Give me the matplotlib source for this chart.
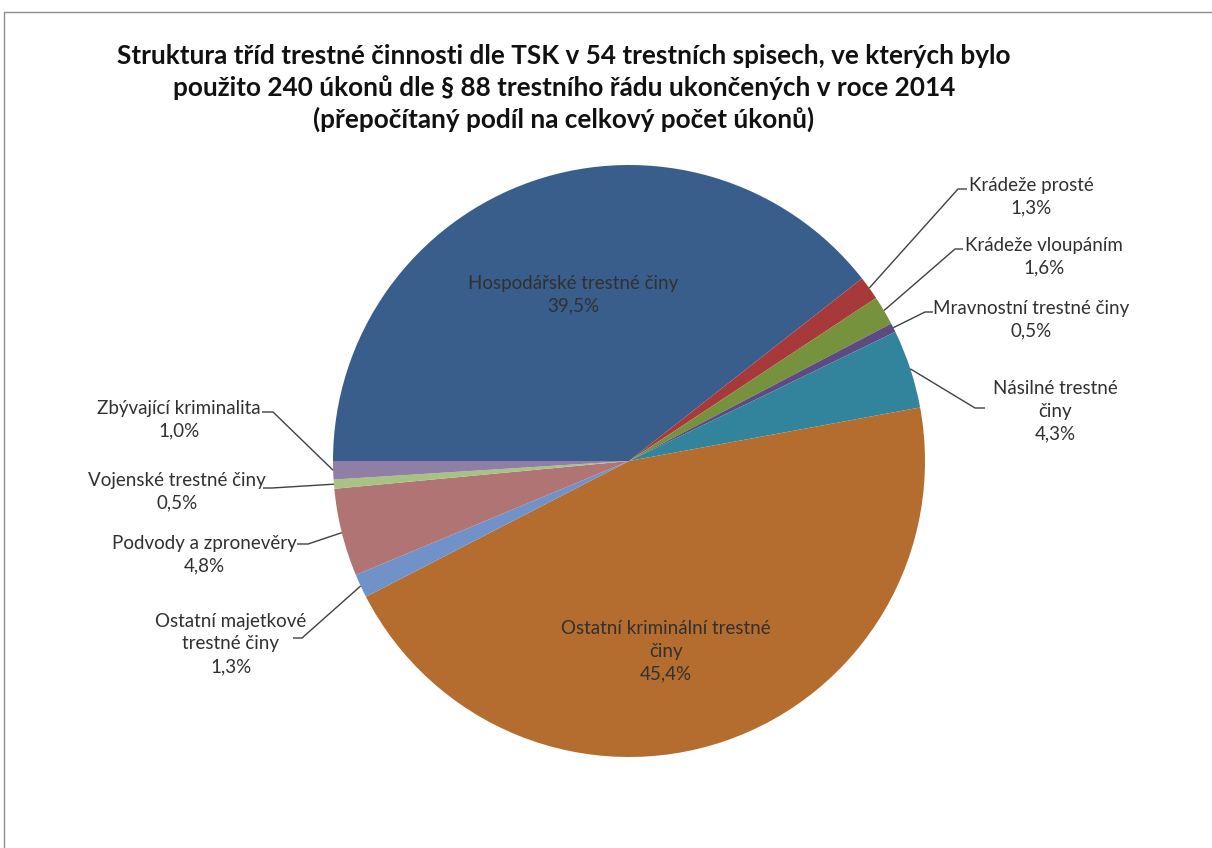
import matplotlib
matplotlib.use("Agg")
import matplotlib.pyplot as plt
import numpy as np
from matplotlib.patches import Rectangle

# ---- data ----
categories = [
    "Hospodářské trestné činy",
    "Krádeže prosté",
    "Krádeže vloupáním",
    "Mravnostní trestné činy",
    "Násilné trestné\nčiny",
    "Ostatní kriminální trestné\nčiny",
    "Ostatní majetkové\ntrestné činy",
    "Podvody a zpronevěry",
    "Vojenské trestné činy",
    "Zbývající kriminalita",
]
values = [39.5, 1.3, 1.6, 0.5, 4.3, 45.4, 1.3, 4.8, 0.5, 1.0]
colors = ["#3A5E8C", "#A8393A", "#76923C", "#5E4A82", "#31849B",
          "#B46D2E", "#7092C8", "#B07474", "#A7C283", "#8F7FA6"]
title = ("Struktura tříd trestné činnosti dle TSK v 54 trestních spisech, ve kterých bylo\n"
         "použito 240 úkonů dle § 88 trestního řádu ukončených v roce 2014\n"
         "(přepočítaný podíl na celkový počet úkonů)")

W, H = 1212, 848
fig = plt.figure(figsize=(W / 100, H / 100), dpi=100)
ax = fig.add_axes([0, 0, 1, 1])

cx, cy, R = 629, H - 461, 296
wedges, _ = ax.pie(values, colors=colors, startangle=180, counterclock=False,
                   center=(cx, cy), radius=R, wedgeprops=dict(linewidth=0))
ax.set_xlim(0, W)
ax.set_ylim(0, H)
ax.set_aspect("equal")
ax.axis("off")

# chart border
fig.patches.append(Rectangle((4 / W, -0.1), 1.2, (H - 12) / H + 0.1,
                             transform=fig.transFigure, fill=False,
                             edgecolor="#8C8C8C", linewidth=1.0))

txt_color = "#303030"
lab_font = dict(family=["Lato", "DejaVu Sans"], fontsize=13.5, color=txt_color,
                ha="center", va="center", linespacing=1.4)

def pct(v):
    return f"{v:.1f}".replace(".", ",") + "%"

# label layout: (text center x, text center y from top, elbow x, elbow y, tail x)
layout = {
    1: (1031, 197, 958, 189, 967),
    2: (1044, 257, 955, 249, 963),
    3: (1031, 320, 925, 312, 933),
    4: (1055, 411, 975, 408, 985),
    6: (231, 644, 302, 638, 293),
    7: (204, 555, 308, 544, 297),
    8: (177, 492, 272, 488, 263),
    9: (179, 420, 273, 412, 262),
}
inside = {0: (573, 295), 5: (666, 651)}

for i, w in enumerate(wedges):
    txt = categories[i] + "\n" + pct(values[i])
    if i in inside:
        x, y = inside[i]
        ax.text(x, H - y, txt, **lab_font)
        continue
    tx, ty, ex, ey, tail = layout[i]
    ax.text(tx, H - ty, txt, **lab_font)
    mid = np.deg2rad((w.theta1 + w.theta2) / 2)
    px, py = cx + R * np.cos(mid), cy + R * np.sin(mid)
    ax.plot([px, ex, tail], [py, H - ey, H - ey], color="#404040", lw=1.0,
            solid_capstyle="butt")

fig.text(564 / W, 1 - 88 / H, title, ha="center", va="center",
         family=["Lato", "DejaVu Sans"], fontweight="bold", fontsize=18.8,
         color="#111111", linespacing=1.34)

fig.savefig("out.png", dpi=100, facecolor="white")
